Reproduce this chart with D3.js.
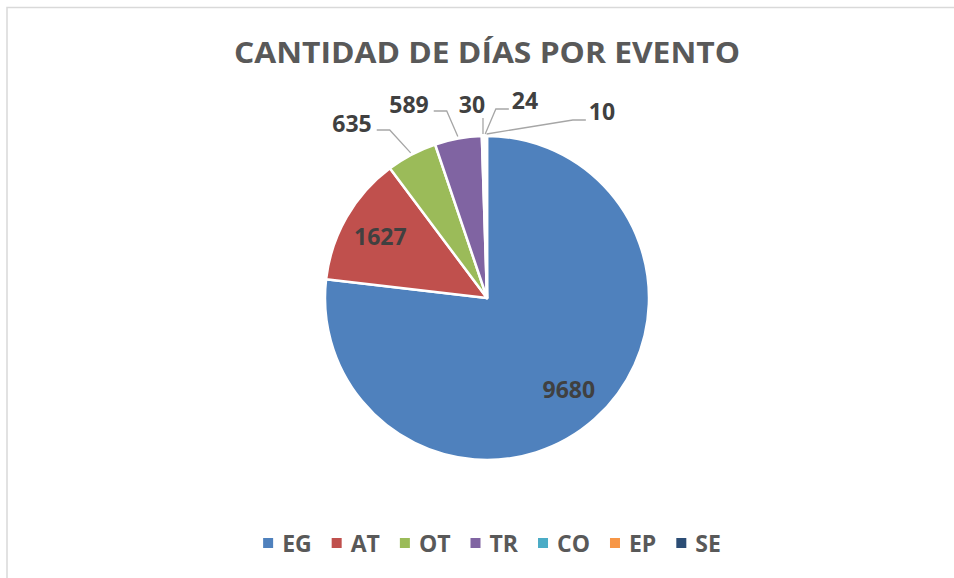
<!DOCTYPE html>
<html lang="es">
<head>
  <meta charset="UTF-8">
  <title>Cantidad de días por evento</title>
  <script src="https://d3js.org/d3.v7.min.js"></script>
  <style>
    body { margin: 0; background: #fff; font-family: "Open Sans", Arial, sans-serif; }
    svg text { font-weight: bold; }
  </style>
</head>
<body>
  <svg id="chart" width="954" height="578"></svg>

  <script>
    // data
    const categories = ["EG", "AT", "OT", "TR", "CO", "EP", "SE"];
    const days = [9680, 1627, 635, 589, 30, 24, 10];
    const colors = ["#4f81bd", "#c0504d", "#9bbb59", "#8064a2", "#4bacc6", "#f79646", "#2c4d75"];

    // label placement: "in" = inside the slice, otherwise offset from the pie centre
    const labelPlace = [
      { mode: "in" },
      { mode: "in" },
      { mode: "left", dx: -135, dy: -174 },
      { mode: "left", dx: -78, dy: -193 },
      { mode: "up", dx: -15, dy: -193 },
      { mode: "right", dx: 38, dy: -197 },
      { mode: "right", dx: 115, dy: -186 }
    ];

    const svg = d3.select("#chart");
    const cx = 487, cy = 298, radius = 162;

    // chart area frame
    svg.append("rect")
      .attr("x", 7).attr("y", 7.5)
      .attr("width", 1000).attr("height", 1000)
      .attr("fill", "none")
      .attr("stroke", "#d9d9d9")
      .attr("stroke-width", 1.5);

    svg.append("text")
      .attr("x", cx).attr("y", 63)
      .attr("text-anchor", "middle")
      .attr("fill", "#595959")
      .style("font-size", "29px")
      .attr("textLength", 506)
      .attr("lengthAdjust", "spacingAndGlyphs")
      .text("CANTIDAD DE DÍAS POR EVENTO");

    const data = categories.map((c, i) => ({ cat: c, value: days[i], color: colors[i], place: labelPlace[i] }));

    const pie = d3.pie().value(d => d.value).sort(null);
    const arcs = pie(data);
    const arc = d3.arc().innerRadius(0).outerRadius(radius);
    const labelArc = d3.arc().innerRadius(radius * 0.76).outerRadius(radius * 0.76);

    const g = svg.append("g").attr("transform", `translate(${cx},${cy})`);

    g.selectAll("path.slice")
      .data(arcs)
      .enter().append("path")
      .attr("class", "slice")
      .attr("d", arc)
      .attr("fill", d => d.data.color)
      .attr("stroke", "#fff")
      .attr("stroke-width", 2.5)
      .attr("stroke-linejoin", "round");

    const fs = 23;

    arcs.forEach(a => {
      const p = a.data.place;
      if (p.mode === "in") {
        const [x, y] = labelArc.centroid(a);
        g.append("text")
          .attr("x", x).attr("y", y).attr("dy", "0.36em")
          .attr("text-anchor", "middle")
          .attr("fill", "#404040")
          .style("font-size", fs + "px")
          .text(a.data.value);
        return;
      }
      const t = g.append("text")
        .attr("x", p.dx).attr("y", p.dy).attr("dy", "0.36em")
        .attr("text-anchor", "middle")
        .attr("fill", "#404040")
        .style("font-size", fs + "px")
        .text(a.data.value);
      const w = t.node().getComputedTextLength();
      const mid = (a.startAngle + a.endAngle) / 2;
      const sx = Math.sin(mid) * (radius + 2), sy = -Math.cos(mid) * (radius + 2);
      let pts;
      if (p.mode === "up") {
        pts = [[sx, sy], [sx, p.dy + 13]];
      } else if (p.mode === "left") {
        const ex = p.dx + w / 2 + 5, ey = p.dy + 6;
        pts = [[sx, sy], [ex + 13, ey], [ex, ey]];
      } else {
        const ex = p.dx - w / 2 - 3, ey = p.dy + 8;
        pts = [[sx, sy], [ex - 13, ey], [ex, ey]];
      }
      g.append("path")
        .attr("d", d3.line()(pts))
        .attr("fill", "none")
        .attr("stroke", "#a6a6a6")
        .attr("stroke-width", 1.3);
    });

    // legend
    const legend = svg.append("g");
    let lx = 0;
    data.forEach(d => {
      const item = legend.append("g").attr("transform", `translate(${lx},0)`);
      item.append("rect")
        .attr("x", 0).attr("y", -14)
        .attr("width", 10).attr("height", 10)
        .attr("fill", d.color);
      const t = item.append("text")
        .attr("x", 19).attr("y", 0)
        .attr("fill", "#595959")
        .style("font-size", fs + "px")
        .text(d.cat);
      lx += 19 + t.node().getComputedTextLength() + 20;
    });
    const legendW = lx - 20;
    legend.attr("transform", `translate(${492 - legendW / 2},552)`);
  </script>
</body>
</html>
